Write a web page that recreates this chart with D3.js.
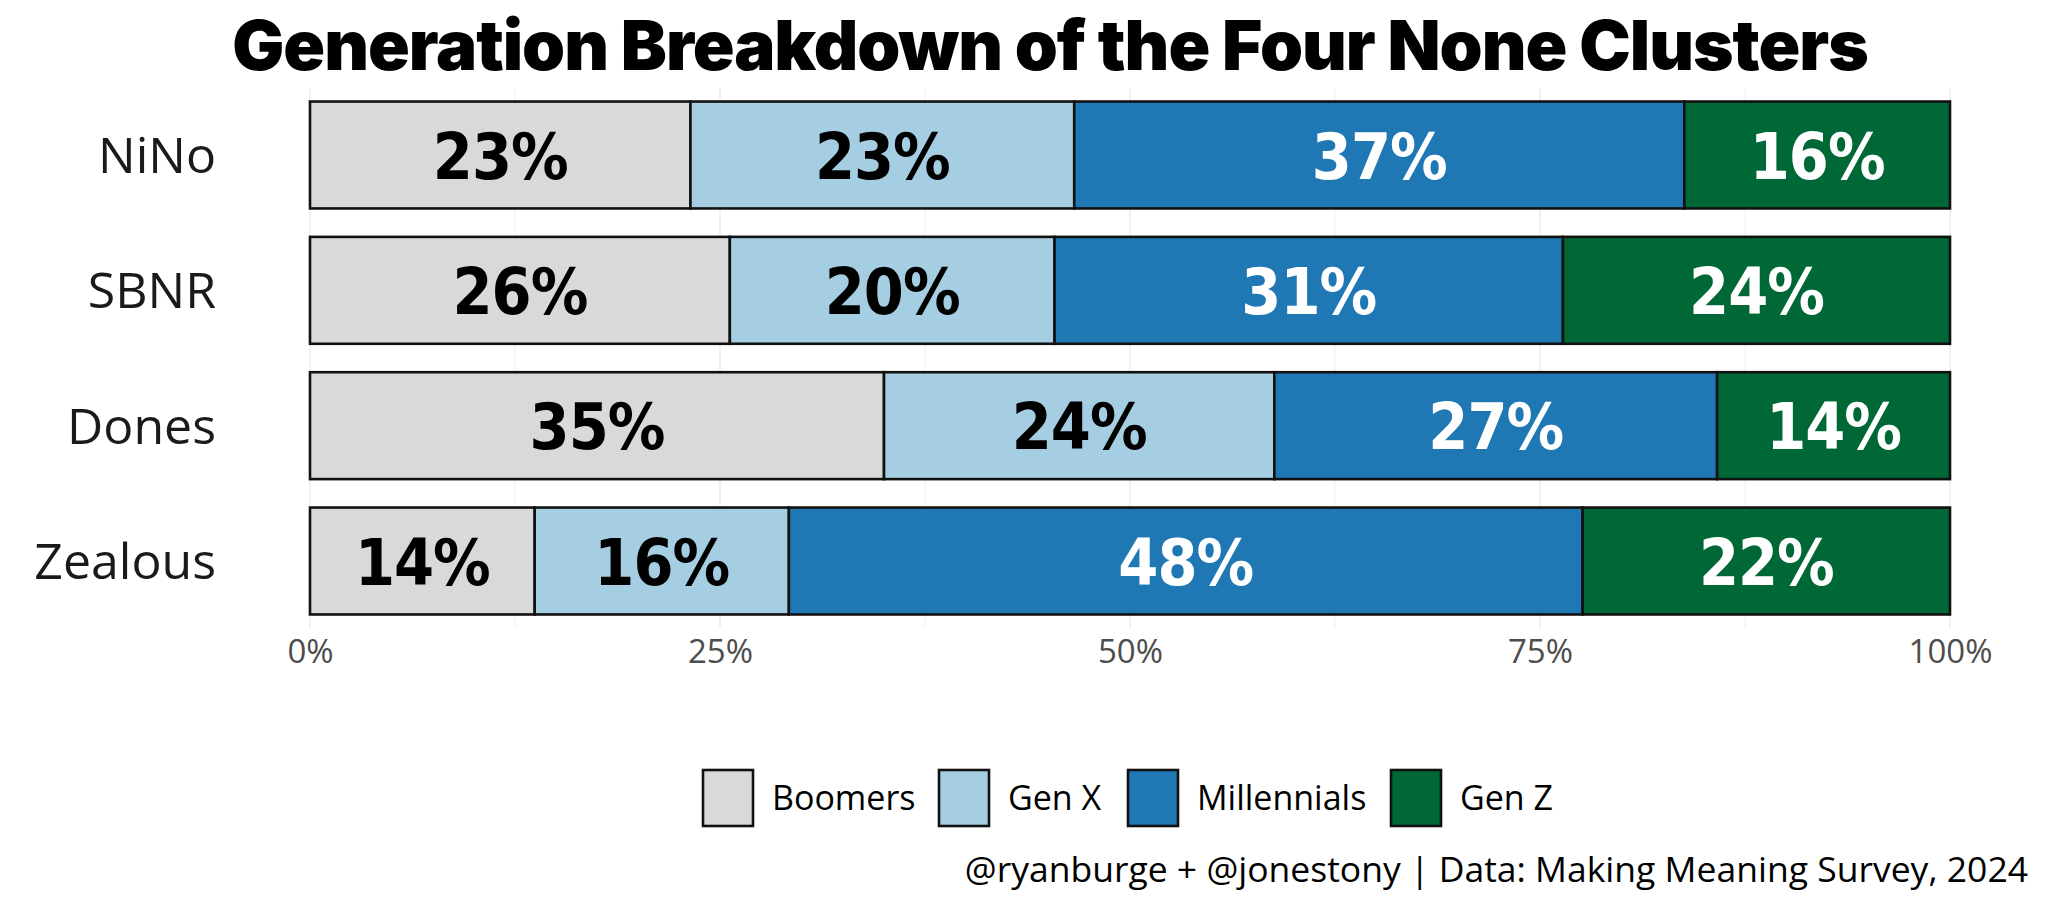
<!DOCTYPE html>
<html>
<head>
  <meta charset="utf-8">
  <title>Generation Breakdown</title>
  <script src="https://d3js.org/d3.v7.min.js"></script>
  <style>
    body { margin: 0; background: #fff; }
  </style>
</head>
<body>
  <script>
    // Data
    const clusters = ['NiNo', 'SBNR', 'Dones', 'Zealous'];
    const generations = ['Boomers', 'Gen X', 'Millennials', 'Gen Z'];
    const colors = ['#d9d9d9', '#a6cee3', '#1f78b4', '#006837'];
    const labelColors = ['#000', '#000', '#fff', '#fff'];
    const boomers = [23.2, 25.6, 35.0, 13.7];
    const genX = [23.4, 19.8, 23.8, 15.5];
    const millennials = [37.2, 31.0, 27.0, 48.4];
    const genZ = [16.2, 23.6, 14.2, 22.4];
    const ticks = [0, 0.25, 0.5, 0.75, 1];

    const width = 2048, height = 910;
    const margin = {left: 310, right: 98, top: 102, bottom: 296};
    const baseFont = '"Open Sans", sans-serif';

    const svg = d3.select('body').append('svg')
      .attr('width', width)
      .attr('height', height);

    // build table for stack
    const rows = clusters.map((c, i) => ({
      cluster: c,
      'Boomers': boomers[i] / 100,
      'Gen X': genX[i] / 100,
      'Millennials': millennials[i] / 100,
      'Gen Z': genZ[i] / 100
    }));
    const series = d3.stack().keys(generations)(rows);

    const x = d3.scaleLinear().domain([0, 1]).range([margin.left, width - margin.right]);
    const y = d3.scaleBand().domain(clusters)
      .range([margin.top - 14, height - margin.bottom + 14])
      .paddingInner(0.21).paddingOuter(0.1);

    // grid lines
    svg.append('g').selectAll('line')
      .data(d3.range(0, 1.0001, 0.125))
      .join('line')
      .attr('x1', d => x(d)).attr('x2', d => x(d))
      .attr('y1', y.range()[0]).attr('y2', y.range()[1])
      .attr('stroke', '#ebebeb').attr('stroke-width', d => (d * 4) % 1 === 0 ? 1.4 : 0.8);

    // bars
    const layer = svg.append('g').selectAll('g')
      .data(series)
      .join('g')
      .attr('fill', (d, i) => colors[i]);

    layer.selectAll('rect')
      .data(d => d)
      .join('rect')
      .attr('x', d => x(d[0]))
      .attr('width', d => x(d[1]) - x(d[0]))
      .attr('y', d => y(d.data.cluster))
      .attr('height', y.bandwidth())
      .attr('stroke', '#111')
      .attr('stroke-width', 2.6);

    // bar labels
    series.forEach((s, si) => {
      svg.append('g').selectAll('text')
        .data(s)
        .join('text')
        .attr('x', d => x((d[0] + d[1]) / 2))
        .attr('y', d => y(d.data.cluster) + y.bandwidth() / 2)
        .attr('dy', '0.37em')
        .attr('text-anchor', 'middle')
        .attr('fill', labelColors[si])
        .style('font-family', '"DejaVu Sans Condensed", sans-serif')
        .style('font-weight', 'bold')
        .style('font-size', '64px')
        .style('letter-spacing', '-1px')
        .text(d => Math.round((d[1] - d[0]) * 100) + '%');
    });

    // y axis labels
    svg.append('g').selectAll('text')
      .data(clusters)
      .join('text')
      .attr('x', margin.left - 94)
      .attr('y', d => y(d) + y.bandwidth() / 2)
      .attr('dy', '0.36em')
      .attr('text-anchor', 'end')
      .attr('fill', '#1a1a1a')
      .style('font-family', baseFont)
      .style('font-size', '50px')
      .text(d => d);

    // x axis
    const xAxis = svg.append('g')
      .attr('transform', `translate(0,${y.range()[1] - 2})`)
      .call(d3.axisBottom(x).tickValues(ticks).tickFormat(d3.format('.0%')).tickSize(0).tickPadding(14));
    xAxis.select('.domain').remove();
    xAxis.selectAll('text')
      .attr('fill', '#4d4d4d')
      .style('font-family', baseFont)
      .style('font-size', '33px');

    // title
    svg.append('text')
      .attr('x', 1050).attr('y', 70)
      .attr('text-anchor', 'middle')
      .style('font-family', 'Inter, sans-serif')
      .style('font-weight', 900)
      .style('font-size', '69px')
      .style('letter-spacing', '-1px')
      .text('Generation Breakdown of the Four None Clusters');

    // legend
    const legend = svg.append('g');
    const keyW = 50, keyH = 56;
    const legendX = [703, 939, 1128, 1391];
    generations.forEach((g, i) => {
      const item = legend.append('g').attr('transform', `translate(${legendX[i]},770)`);
      item.append('rect')
        .attr('width', keyW).attr('height', keyH)
        .attr('fill', colors[i])
        .attr('stroke', '#111').attr('stroke-width', 2.6);
      item.append('text')
        .attr('x', keyW + 19).attr('y', keyH / 2)
        .attr('dy', '0.36em')
        .style('font-family', baseFont)
        .style('font-size', '34px')
        .text(g);
    });

    // caption
    svg.append('text')
      .attr('x', 2028).attr('y', 882)
      .attr('text-anchor', 'end')
      .style('font-family', baseFont)
      .style('font-size', '35.5px')
      .text('@ryanburge + @jonestony | Data: Making Meaning Survey, 2024');
  </script>
</body>
</html>
